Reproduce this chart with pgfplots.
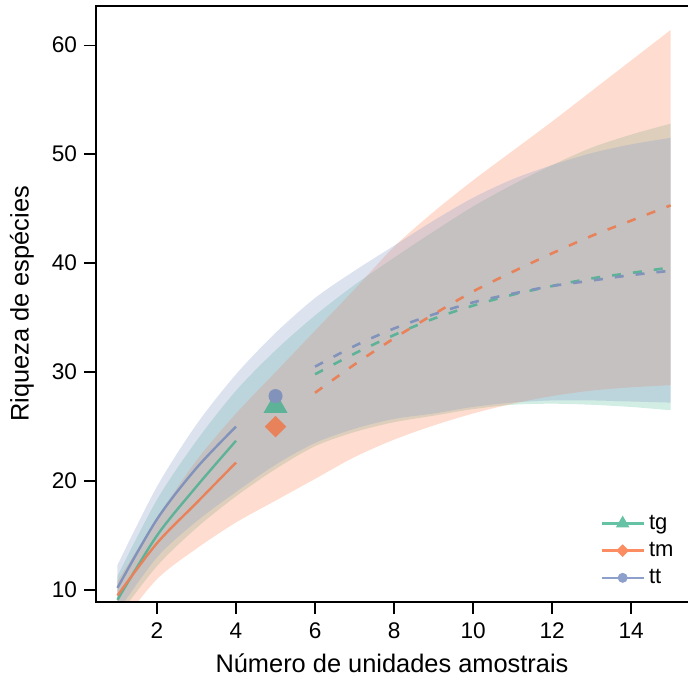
\documentclass[border=0pt]{standalone}
\usepackage{fontspec}
\setmainfont{Liberation Sans}
\usepackage{pgfplots}
\pgfplotsset{compat=1.18}
\usepgfplotslibrary{fillbetween}
\definecolor{ctg}{HTML}{66C2A5}
\definecolor{ctm}{HTML}{FC8D62}
\definecolor{ctt}{HTML}{8DA0CB}
\begin{document}
\begin{tikzpicture}
\begin{axis}[name=ax, at={(0,0)}, anchor=south west,
  width=296pt, height=298pt, scale only axis,
  xmin=0.456, xmax=15.44, ymin=8.9, ymax=63.6,
  axis line style={draw=none},
  xtick={2,4,...,14}, ytick={10,20,...,60},
  xtick pos=left, ytick pos=left, tick align=outside,
  major tick length=6pt,
  tick style={black, line width=0.7pt},
  /pgf/number format/assume math mode=true,
  ticklabel style={font=\fontsize{11.3}{13}\selectfont},
  xticklabel style={yshift=-1pt},
  xlabel={Número de unidades amostrais},
  ylabel={Riqueza de espécies},
  label style={font=\fontsize{12.7}{14}\selectfont},
  xlabel style={at={(axis description cs:0.5,-0.103)}, anchor=center},
  ylabel style={at={(axis description cs:-0.125,0.5)}, anchor=center},
  legend style={at={(0.993,0.012)}, anchor=south east, draw=none, fill=none,
    font=\fontsize{11}{13}\selectfont, row sep=1pt},
  legend cell align=left,
  legend image code/.code={\draw[mark repeat=2,mark phase=2,#1] plot coordinates {(0cm,0cm) (0.37cm,0cm) (0.74cm,0cm)};},
]
% bands
\addplot[name path=tgU, draw=none, smooth, forget plot] coordinates {
(1,11.3)(2,18.3)(3,23.7)(4,28.3)(5,32.0)(6,35.2)(7,38.0)(8,40.5)(9,42.9)(10,45.2)(11,47.2)(12,49.0)(13,50.6)(14,51.8)(15,52.8)};
\addplot[name path=tgL, draw=none, smooth, forget plot] coordinates {
(1,7.5)(2,12.2)(3,15.7)(4,18.6)(5,21.1)(6,23.2)(7,24.5)(8,25.4)(9,26.0)(10,26.6)(11,27.0)(12,27.1)(13,27.0)(14,26.8)(15,26.5)};
\addplot[fill=ctg, fill opacity=0.3, draw=none, forget plot] fill between[of=tgU and tgL];
\addplot[name path=tmU, draw=none, smooth, forget plot] coordinates {
(1,10.8)(2,16.6)(3,21.9)(4,26.2)(5,30.0)(6,33.8)(7,37.6)(8,41.5)(9,44.7)(10,47.6)(11,50.3)(12,53.0)(13,55.8)(14,58.6)(15,61.4)};
\addplot[name path=tmL, draw=none, smooth, forget plot] coordinates {
(1,6.5)(2,11.0)(3,13.8)(4,16.2)(5,18.2)(6,20.2)(7,22.2)(8,23.8)(9,25.1)(10,26.2)(11,27.1)(12,27.8)(13,28.3)(14,28.6)(15,28.8)};
\addplot[fill=ctm, fill opacity=0.3, draw=none, forget plot] fill between[of=tmU and tmL];
\addplot[name path=ttU, draw=none, smooth, forget plot] coordinates {
(1,12.3)(2,19.5)(3,25.2)(4,29.8)(5,33.6)(6,36.8)(7,39.3)(8,41.6)(9,43.9)(10,46.0)(11,47.7)(12,49.0)(13,50.1)(14,50.9)(15,51.5)};
\addplot[name path=ttL, draw=none, smooth, forget plot] coordinates {
(1,8.0)(2,13.0)(3,16.3)(4,19.0)(5,21.5)(6,23.5)(7,24.8)(8,25.7)(9,26.2)(10,26.8)(11,27.2)(12,27.4)(13,27.4)(14,27.3)(15,27.2)};
\addplot[fill=ctt, fill opacity=0.3, draw=none, forget plot] fill between[of=ttU and ttL];
% rarefaction
\addplot[ctg!92!black, line width=1.2pt, smooth, forget plot] coordinates {(1,9.1)(2,15.0)(3,19.5)(4,23.7)};
\addplot[ctm!92!black, line width=1.2pt, smooth, forget plot] coordinates {(1,9.5)(2,14.3)(3,18.0)(4,21.7)};
\addplot[ctt!92!black, line width=1.2pt, smooth, forget plot] coordinates {(1,10.2)(2,16.5)(3,21.2)(4,25.0)};
% extrapolation
\addplot[ctg!92!black, line width=1.3pt, smooth, dash pattern=on 4.5pt off 6pt, forget plot] coordinates {(6,29.8)(7,31.7)(8,33.4)(9,34.9)(10,36.1)(11,37.1)(12,37.9)(13,38.6)(14,39.1)(15,39.6)};
\addplot[ctm!92!black, line width=1.3pt, smooth, dash pattern=on 4.5pt off 6pt, forget plot] coordinates {(6,28.1)(7,30.7)(8,33.1)(9,35.3)(10,37.4)(11,39.2)(12,40.9)(13,42.5)(14,43.9)(15,45.3)};
\addplot[ctt!92!black, line width=1.3pt, smooth, dash pattern=on 4.5pt off 6pt, forget plot] coordinates {(6,30.5)(7,32.4)(8,34.0)(9,35.3)(10,36.4)(11,37.2)(12,37.9)(13,38.4)(14,38.9)(15,39.3)};
% reference points
\addplot[only marks, mark=triangle*, mark size=6.5pt, color=ctg!92!black, forget plot] coordinates {(5,26.9)};
\addplot[only marks, mark=square*, mark size=3.6pt, mark options={rotate=45}, color=ctm!92!black, forget plot] coordinates {(5,25.0)};
\addplot[only marks, mark=*, mark size=3.3pt, color=ctt!92!black, forget plot] coordinates {(5,27.8)};
% legend
\addlegendimage{ctg, line width=1.3pt, mark=triangle*, mark size=2.6pt}
\addlegendentry{tg}
\addlegendimage{ctm, line width=1.3pt, mark=square*, mark size=1.6pt, mark options={rotate=45}}
\addlegendentry{tm}
\addlegendimage{ctt, line width=1.3pt, mark=*, mark size=1.8pt}
\addlegendentry{tt}
\end{axis}
\draw[line width=1pt, line join=miter] (ax.north east) -- (ax.north west) -- (ax.south west) -- (ax.south east);
\pgfresetboundingbox
\path[use as bounding box] ([xshift=-48pt,yshift=-38pt]ax.south west) rectangle ([yshift=3pt]ax.north east);
\end{tikzpicture}
\end{document}
